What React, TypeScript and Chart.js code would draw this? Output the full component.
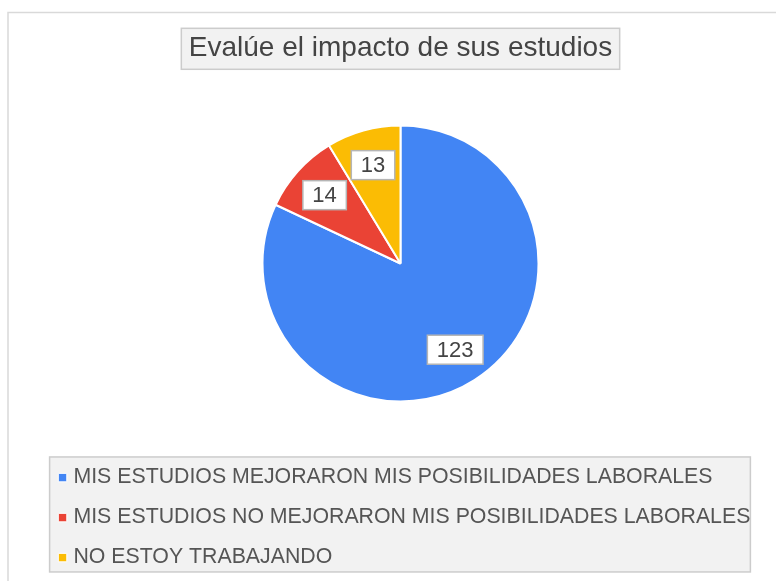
import React, { useEffect, useRef } from "react";
import { Chart, registerables } from "chart.js";

Chart.register(...registerables);

const TITLE = "Evalúe el impacto de sus estudios";
const CATEGORIES = [
  "MIS ESTUDIOS MEJORARON MIS POSIBILIDADES LABORALES",
  "MIS ESTUDIOS NO MEJORARON MIS POSIBILIDADES LABORALES",
  "NO ESTOY TRABAJANDO",
];
const VALUES = [123, 14, 13];
const COLORS = ["#4285F4", "#EA4335", "#FBBC04"];

const FONT = "'Liberation Sans', Arial, sans-serif";
const TITLE_SIZE = 28;
const TITLE_PAD_TOP = 31.8;
const TITLE_PAD_BOTTOM = 13.35;
const LEGEND_SIZE = 21.3;
const LEGEND_PAD = 18.7;

const framePlugin = {
  id: "frame",
  beforeDraw(chart: any) {
    const ctx = chart.ctx as CanvasRenderingContext2D;
    ctx.save();
    ctx.fillStyle = "#ffffff";
    ctx.fillRect(0, 0, chart.width, chart.height);
    // outer frame
    ctx.strokeStyle = "#d9d9d9";
    ctx.lineWidth = 1.5;
    ctx.beginPath();
    ctx.moveTo(8, chart.height + 2);
    ctx.lineTo(8, 12.5);
    ctx.lineTo(chart.width + 2, 12.5);
    ctx.stroke();
    // title box
    const t = chart.titleBlock;
    ctx.font = `${TITLE_SIZE}px ${FONT}`;
    const tw = ctx.measureText(TITLE).width;
    const cx = (t.left + t.right) / 2;
    const cy = t.top + TITLE_PAD_TOP + (TITLE_SIZE * 1.2) / 2;
    ctx.fillStyle = "#f2f2f2";
    ctx.strokeStyle = "#cccccc";
    ctx.lineWidth = 1.5;
    const bx = cx - tw / 2 - 7.5;
    const by = cy - 20.3;
    ctx.fillRect(bx, by, tw + 15, 41);
    ctx.strokeRect(bx, by, tw + 15, 41);
    // legend box
    const l = chart.legend;
    const lx = l.left + 6;
    const ly = l.top + 8.7;
    const lw = l.right - l.left - 13;
    const lh = l.bottom - l.top - 15;
    ctx.fillRect(lx, ly, lw, lh);
    ctx.strokeRect(lx, ly, lw, lh);
    ctx.restore();
  },
};

const labelPlugin = {
  id: "sliceLabels",
  afterDatasetsDraw(chart: any) {
    const ctx = chart.ctx as CanvasRenderingContext2D;
    const meta = chart.getDatasetMeta(0);
    const data = chart.data.datasets[0].data as number[];
    ctx.save();
    ctx.font = `22px ${FONT}`;
    ctx.textAlign = "center";
    ctx.textBaseline = "middle";
    meta.data.forEach((arc: any, i: number) => {
      const p = arc.getProps(["x", "y", "startAngle", "endAngle", "outerRadius"], true);
      const mid = (p.startAngle + p.endAngle) / 2;
      const r = p.outerRadius * 0.74;
      const x = p.x + Math.cos(mid) * r;
      const y = p.y + Math.sin(mid) * r;
      const text = String(data[i]);
      const w = ctx.measureText(text).width + 19;
      const h = 29;
      ctx.fillStyle = "#ffffff";
      ctx.fillRect(x - w / 2, y - h / 2, w, h);
      ctx.strokeStyle = "#b5b5b5";
      ctx.lineWidth = 1.5;
      ctx.strokeRect(x - w / 2, y - h / 2, w, h);
      ctx.fillStyle = "#444444";
      ctx.fillText(text, x, y + 1);
    });
    ctx.restore();
  },
};

export default function App() {
  const ref = useRef<HTMLCanvasElement | null>(null);

  useEffect(() => {
    document.body.style.margin = "0";
    if (!ref.current) return;
    const chart = new Chart(ref.current, {
      type: "pie",
      data: {
        labels: CATEGORIES,
        datasets: [
          {
            data: VALUES,
            backgroundColor: COLORS,
            borderColor: "#ffffff",
            borderWidth: 2,
            radius: 138,
          } as any,
        ],
      },
      options: {
        animation: false,
        responsive: false,
        devicePixelRatio: 1,
        layout: {
          padding: { top: 0, bottom: 2.75, left: 43.6, right: 18.6 },
        },
        plugins: {
          title: {
            display: true,
            text: TITLE,
            color: "#444444",
            font: { family: FONT, size: TITLE_SIZE, weight: "normal", lineHeight: 1.2 },
            padding: { top: TITLE_PAD_TOP, bottom: TITLE_PAD_BOTTOM },
          },
          legend: {
            display: true,
            position: "bottom",
            align: "start",
            labels: {
              color: "#555555",
              font: { family: FONT, size: LEGEND_SIZE },
              padding: LEGEND_PAD,
              usePointStyle: true,
              pointStyle: "rect",
              boxWidth: 0.5,
              boxHeight: 8.5,
              generateLabels: (c: any) => {
                const base = Chart.overrides.pie.plugins.legend.labels.generateLabels(c);
                return base.map((it: any) => ({ ...it, lineWidth: 1, strokeStyle: "#ffffff", pointStyle: "rect" }));
              },
            },
          },
          tooltip: { enabled: false },
        },
      } as any,
      plugins: [framePlugin, labelPlugin],
    });
    return () => chart.destroy();
  }, []);

  return (
    <div style={{ width: 776, height: 581 }}>
      <canvas ref={ref} width={776} height={581} style={{ display: "block" }} />
    </div>
  );
}
